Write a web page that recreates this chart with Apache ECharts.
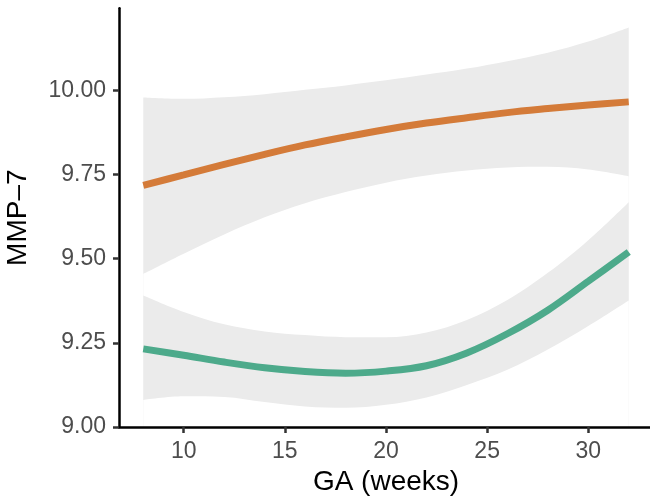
<!DOCTYPE html>
<html>
<head>
<meta charset="utf-8">
<script src="https://cdn.jsdelivr.net/npm/echarts@6/dist/echarts.min.js"></script>
<style>html,body{margin:0;padding:0;background:#fff}#c{width:650px;height:498px}</style>
</head>
<body>
<div id="c"></div>
<script>
// GA (weeks)
const ga = [8, 10, 12, 14, 16, 18, 20, 22, 24, 26, 28, 30, 32];
// Orange group: fitted MMP-7 and confidence band
const orangeFit   = [9.718, 9.749, 9.780, 9.810, 9.838, 9.862, 9.884, 9.903, 9.919, 9.934, 9.946, 9.957, 9.966];
const orangeUpper = [9.979, 9.975, 9.980, 9.989, 10.002, 10.015, 10.030, 10.047, 10.065, 10.087, 10.112, 10.145, 10.187];
const orangeLower = [9.455, 9.515, 9.572, 9.623, 9.665, 9.698, 9.726, 9.747, 9.762, 9.771, 9.773, 9.765, 9.745];
// Green group: fitted MMP-7 and confidence band
const greenFit   = [9.232, 9.213, 9.193, 9.176, 9.165, 9.160, 9.166, 9.182, 9.220, 9.277, 9.347, 9.433, 9.520];
const greenUpper = [9.391, 9.342, 9.305, 9.284, 9.273, 9.267, 9.267, 9.281, 9.318, 9.377, 9.458, 9.555, 9.668];
const greenLower = [9.080, 9.091, 9.089, 9.074, 9.061, 9.057, 9.066, 9.088, 9.125, 9.170, 9.230, 9.300, 9.376];
// Tick labels
const xTicks = [10, 15, 20, 25, 30];
const yTicks = [9.00, 9.25, 9.50, 9.75, 10.00];

const pairs = (ys) => ga.map((x, i) => [x, ys[i]]);

const FONT = '"Liberation Sans", Arial, sans-serif';
const bandColor = '#EBEBEB';
const SM = 0.35;

// band drawn as: upper boundary filled grey down to axis, then lower boundary filled white down to axis
function bandSeries(lo, up, zBase) {
  return [
    { type: 'line', data: pairs(up), smooth: SM, symbol: 'none',
      lineStyle: { opacity: 0 }, areaStyle: { color: bandColor, opacity: 1, origin: 'start' },
      silent: true, z: zBase },
    { type: 'line', data: pairs(lo), smooth: SM, symbol: 'none',
      lineStyle: { opacity: 0 }, areaStyle: { color: '#ffffff', opacity: 1, origin: 'start' },
      silent: true, z: zBase + 0.1 }
  ];
}

const chart = echarts.init(document.getElementById('c'), null, { renderer: 'canvas' });
chart.setOption({
  animation: false,
  backgroundColor: '#ffffff',
  grid: { left: 119, width: 534, top: 8.3, height: 418.7, containLabel: false, outerBoundsMode: 'none' },
  xAxis: {
    type: 'value', min: 6.8, max: 33.2, z: 20,
    name: 'GA (weeks)', nameLocation: 'middle', nameGap: 40,
    nameTextStyle: { fontSize: 28, color: '#000', fontFamily: FONT },
    axisLine: { show: true, onZero: false, lineStyle: { color: '#000', width: 2.5 } },
    axisTick: { show: true, customValues: xTicks, length: 6, lineStyle: { color: '#333', width: 2.5 } },
    axisLabel: { customValues: xTicks, fontSize: 23, color: '#4D4D4D', fontFamily: FONT, margin: 13 },
    splitLine: { show: false }
  },
  yAxis: {
    type: 'value', min: 9.0, max: 10.244, z: 20,
    name: 'MMP\u20137', nameLocation: 'middle', nameGap: 87, nameRotate: 90,
    nameTextStyle: { fontSize: 28, color: '#000', fontFamily: FONT },
    axisLine: { show: true, onZero: false, lineStyle: { color: '#000', width: 2.5 } },
    axisTick: { show: true, customValues: yTicks, length: 6, lineStyle: { color: '#333', width: 2.5 } },
    axisLabel: { customValues: yTicks, fontSize: 23, color: '#4D4D4D', fontFamily: FONT, margin: 13,
      formatter: (v) => Number(v).toFixed(2) },
    splitLine: { show: false }
  },
  series: [
    ...bandSeries(orangeLower, orangeUpper, 1),
    ...bandSeries(greenLower, greenUpper, 1.5),
    { type: 'line', data: pairs(orangeFit), smooth: SM, symbol: 'none',
      lineStyle: { color: '#D47B39', width: 7, cap: 'butt' }, z: 5 },
    { type: 'line', data: pairs(greenFit), smooth: SM, symbol: 'none',
      lineStyle: { color: '#4DAA8B', width: 7, cap: 'butt' }, z: 5 }
  ]
});
</script>
</body>
</html>
